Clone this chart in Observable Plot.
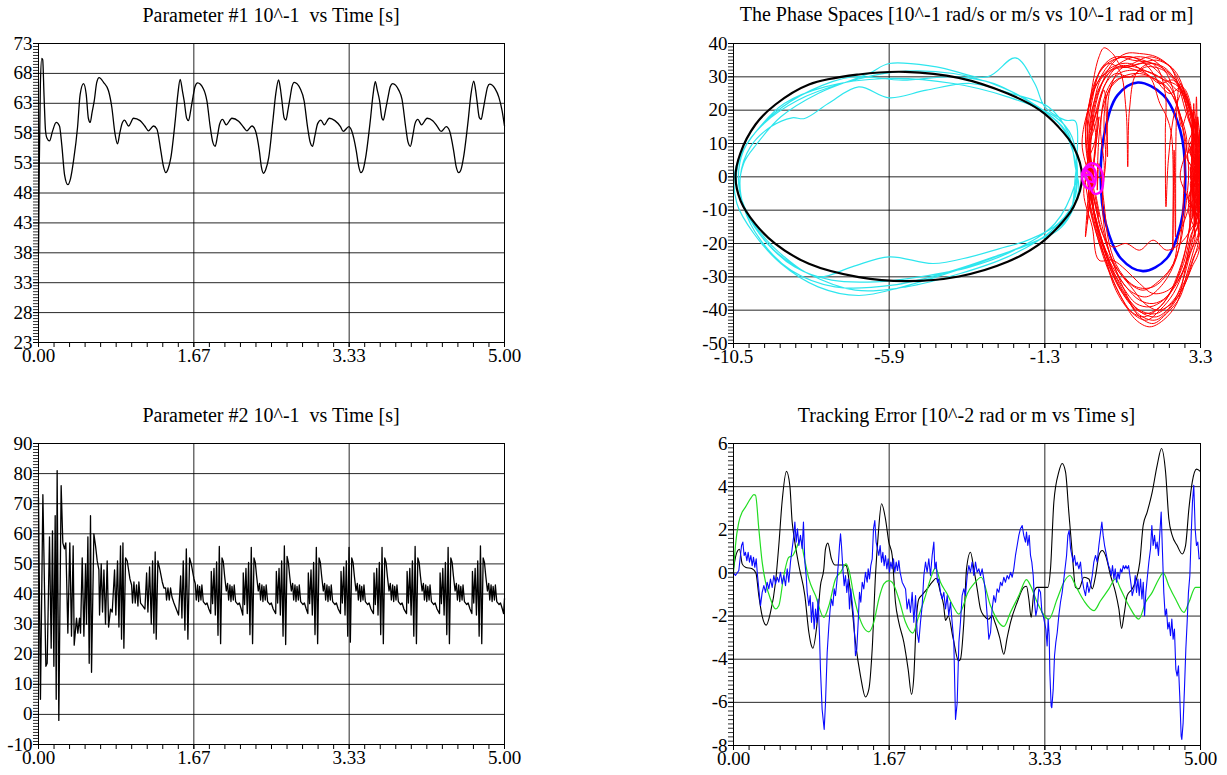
<!DOCTYPE html>
<html><head><meta charset="utf-8">
<script src="https://cdn.jsdelivr.net/npm/d3@7"></script>
<script src="https://cdn.jsdelivr.net/npm/@observablehq/plot@0.6"></script>
<style>
html,body{margin:0;padding:0;background:#fff;}
#root{position:relative;width:1227px;height:775px;overflow:hidden;background:#fff;font-family:"Liberation Serif","Times New Roman",serif;}
.ttl{position:absolute;font-size:20px;line-height:20px;white-space:pre;color:#000;transform:translateX(-50%);}
.pnl{position:absolute;}
</style></head><body><div id="root"></div><script>
// ---------- titles & tick labels ----------
const titles = ["Parameter #1 10^-1  vs Time [s]", "The Phase Spaces [10^-1 rad/s or m/s vs 10^-1 rad or m]", "Parameter #2 10^-1  vs Time [s]", "Tracking Error [10^-2 rad or m vs Time s]"];
const timeTicks = [0, 5/3, 10/3, 5];
const timeTickLabels = ["0.00", "1.67", "3.33", "5.00"];
const phaseXTicks = [-10.5, -5.9, -1.3, 3.3];
const phaseXTickLabels = ["-10.5", "-5.9", "-1.3", "3.3"];
const p1YTicks = [23, 28, 33, 38, 43, 48, 53, 58, 63, 68, 73];
const p2YTicks = [-10, 0, 10, 20, 30, 40, 50, 60, 70, 80, 90];
const phaseYTicks = [-50, -40, -30, -20, -10, 0, 10, 20, 30, 40];
const errYTicks = [-8, -6, -4, -2, 0, 2, 4, 6];

// ---------- Parameter #1 ----------
const p1 = [[0,38],[0.008,52],[0.02,66],[0.035,70.5],[0.045,70.3],[0.06,64],[0.075,58.5],[0.09,57.2],[0.118,56.7],[0.15,58.3],[0.19,59.8],[0.225,59.2],[0.25,56],[0.28,51],[0.315,49.4],[0.345,50.5],[0.376,53.4],[0.419,59],[0.447,64.5],[0.483,66.3],[0.512,64.5],[0.535,60.5],[0.555,59.8],[0.575,61.5],[0.598,63.4],[0.625,66.5],[0.651,67.3],[0.698,66.5],[0.751,65.1],[0.787,62.3],[0.82,58],[0.848,56.2],[0.872,58],[0.894,59.5],[0.923,60.2],[0.966,59.2],[1.02,60.5],[1.09,60.1],[1.14,59.2],[1.18,58.4],[1.234,59.2],[1.27,58.7],[1.313,55],[1.34,52.5],[1.367,51.4],[1.39,52],[1.42,53.9],[1.467,60.1],[1.495,64.5],[1.52,67],[1.545,65],[1.563,63.4],[1.59,60.5],[1.61,60.1],[1.635,62],[1.657,64],[1.68,65.8],[1.707,66.4],[1.77,65.4],[1.807,63.4],[1.843,59],[1.87,56.5],[1.896,55.8],[1.92,57.5],[1.943,59.5],[1.975,60.3],[2.014,59.4],[2.075,60.5],[2.147,60],[2.2,59],[2.236,58.4],[2.29,59.2],[2.326,58.5],[2.37,55],[2.39,52.5],[2.415,51.3],[2.44,52],[2.47,53.9],[2.515,60.1],[2.545,64.5],[2.576,66.9],[2.595,65.5],[2.612,63.4],[2.635,60.6],[2.655,60.2],[2.678,62],[2.7,64],[2.72,65.8],[2.744,66.5],[2.81,65.4],[2.85,63.4],[2.887,59],[2.915,56.5],[2.94,55.8],[2.965,57.5],[2.995,59.6],[3.03,60.2],[3.066,59.4],[3.12,60.5],[3.18,60.1],[3.24,59.1],[3.27,58.3],[3.33,59.1],[3.36,58.4],[3.41,55],[3.435,52.5],[3.46,51.4],[3.485,52],[3.51,53.9],[3.56,60.1],[3.59,64.5],[3.614,66.6],[3.635,65.2],[3.66,63.4],[3.685,60.5],[3.7,60.2],[3.725,62],[3.75,64],[3.775,65.8],[3.8,66.3],[3.865,65.2],[3.9,63.7],[3.94,59],[3.965,56.5],[3.99,55.8],[4.015,57.5],[4.04,59.6],[4.07,60.3],[4.11,59.4],[4.17,60.5],[4.23,60.1],[4.28,59.1],[4.32,58.3],[4.375,59.1],[4.41,58.4],[4.455,55],[4.48,52.5],[4.51,51.4],[4.535,52],[4.56,53.9],[4.61,60.1],[4.64,64.5],[4.67,66.7],[4.69,65.2],[4.705,63.4],[4.73,60.6],[4.75,60.3],[4.772,62],[4.795,64],[4.818,65.7],[4.84,66.2],[4.9,65.4],[4.94,64],[4.975,61.7],[5,59.2]];

// ---------- Parameter #2 ----------
const p2 = [[0,72],[0.021,5],[0.047,73],[0.079,16],[0.093,17],[0.118,59],[0.136,22],[0.15,61],[0.165,16],[0.179,66],[0.19,5],[0.2,81],[0.218,-2],[0.243,76],[0.261,57],[0.279,55],[0.293,57],[0.315,27],[0.336,57],[0.354,26],[0.372,56],[0.383,23],[0.408,32],[0.422,27],[0.44,32],[0.451,27],[0.469,52],[0.487,26],[0.505,50],[0.515,30],[0.53,59],[0.544,17],[0.558,66],[0.569,14],[0.594,60],[0.612,56],[0.63,51],[0.648,48],[0.655,33],[0.673,50],[0.687,34],[0.702,48],[0.719,30],[0.737,51],[0.752,29],[0.773,35],[0.791,34],[0.816,48],[0.83,33],[0.848,51],[0.863,29],[0.88,56],[0.891,25],[0.906,57],[0.916,22],[0.934,52],[0.952,51],[0.981,45],[0.999,43],[1.009,37],[1.024,44],[1.038,37],[1.052,43],[1.067,36],[1.077,44],[1.095,37],[1.12,36],[1.142,35],[1.16,47],[1.174,34],[1.192,49],[1.21,30],[1.224,51],[1.238,27],[1.252,54],[1.263,25],[1.281,51],[1.303,48],[1.328,44],[1.346,42],[1.364,42],[1.374,38],[1.389,42],[1.403,38],[1.417,42],[1.432,39],[1.453,37],[1.478,35],[1.503,33],
[1.525,46],[1.539,32],[1.553,51],[1.571,28],[1.586,55],[1.603,25],[1.621,52],[1.639,50],[1.668,45],[1.682,43.5],[1.693,38],[1.707,43],[1.718,37.5],[1.729,42.5],[1.743,38],[1.753,43],[1.768,37.5],[1.793,36.5],[1.808,37],[1.828,35],[1.848,33.5],
[1.854,47.5],[1.868,36.8],[1.883,48.5],[1.897,33],[1.911,50.7],[1.926,26.3],[1.94,55.8],[1.954,23.5],[1.969,52],[1.983,50.7],[1.997,46],[2.015,41],[2.029,43.5],[2.04,38],[2.054,43],[2.065,37.5],[2.076,42.5],[2.09,38],[2.1,43],[2.115,37.5],[2.14,36.5],[2.155,37],[2.175,35],[2.192,33],
[2.197,47],[2.211,36.5],[2.226,48.5],[2.24,33.5],[2.254,50.5],[2.269,26.5],[2.283,55.5],[2.297,23.5],[2.312,52],[2.326,50.5],[2.34,46],[2.358,41],[2.372,43.5],[2.383,38],[2.397,43],[2.408,37.5],[2.419,42.5],[2.433,38],[2.443,43],[2.458,37.5],[2.483,36.5],[2.498,37],[2.518,35],[2.545,33.5],
[2.552,47.5],[2.566,37],[2.581,48.5],[2.595,33],[2.609,51],[2.624,26],[2.638,56],[2.652,23.2],[2.667,52.5],[2.681,50.5],[2.695,46],[2.713,41],[2.727,43.5],[2.738,38],[2.752,43],[2.763,37.5],[2.774,42.5],[2.788,38],[2.798,43],[2.813,37.5],[2.838,36.5],[2.853,37],[2.873,35],[2.89,33.5],
[2.895,47],[2.909,36.8],[2.924,48],[2.938,33],[2.952,50.5],[2.967,26.5],[2.981,55.5],[2.995,23.5],[3.01,52],[3.024,50.5],[3.038,46],[3.056,41],[3.07,43.5],[3.081,38],[3.095,43],[3.106,37.5],[3.117,42.5],[3.131,38],[3.141,43],[3.156,37.5],[3.181,36.5],[3.196,37],[3.216,35],[3.24,33.5],
[3.246,47.5],[3.26,37],[3.275,49],[3.289,33],[3.303,51],[3.318,26],[3.332,55.5],[3.346,24],[3.361,52],[3.375,50.5],[3.389,46],[3.407,41],[3.421,43.5],[3.432,38],[3.446,43],[3.457,37.5],[3.468,42.5],[3.482,38],[3.492,43],[3.507,37.5],[3.532,36.5],[3.547,37],[3.567,35],[3.594,33.5],
[3.6,47],[3.614,36.5],[3.629,48.5],[3.643,33],[3.657,50.5],[3.672,26.5],[3.686,55.5],[3.7,23.5],[3.715,52],[3.729,50.5],[3.743,46],[3.761,41],[3.775,43.5],[3.786,38],[3.8,43],[3.811,37.5],[3.822,42.5],[3.836,38],[3.846,43],[3.861,37.5],[3.886,36.5],[3.901,37],[3.921,35],[3.949,33.5],
[3.955,47.5],[3.969,37],[3.984,48.5],[3.998,33],[4.012,51],[4.027,26],[4.041,55.8],[4.055,23.5],[4.07,52],[4.084,50.5],[4.098,46],[4.116,41],[4.13,43.5],[4.141,38],[4.155,43],[4.166,37.5],[4.177,42.5],[4.191,38],[4.201,43],[4.216,37.5],[4.241,36.5],[4.256,37],[4.276,35],[4.303,33.5],
[4.309,47],[4.323,36.8],[4.338,48.5],[4.352,33],[4.366,50.5],[4.381,26.5],[4.395,55.5],[4.409,23.5],[4.424,52],[4.438,50.5],[4.452,46],[4.47,41],[4.484,43.5],[4.495,38],[4.509,43],[4.52,37.5],[4.531,42.5],[4.545,38],[4.555,43],[4.57,37.5],[4.595,36.5],[4.61,37],[4.63,35],[4.65,33.5],
[4.656,47.5],[4.67,37],[4.685,48.5],[4.699,33],[4.713,51],[4.728,26],[4.742,56],[4.756,23.5],[4.771,52],[4.785,50.5],[4.799,46],[4.817,41],[4.831,43.5],[4.842,38],[4.856,43],[4.867,37.5],[4.878,42.5],[4.892,38],[4.902,43],[4.917,37.5],[4.942,36.5],[4.957,37],[4.977,35],[4.99,33.5],[5,38.5]];

// ---------- Phase spaces ----------
const phaseBlack = [[-10.44,0],[-10.3,7],[-9.85,15.7],[-9.26,21.7],[-8.27,27.7],[-6.8,30.7],[-5.42,31.5],[-3.84,29.7],[-2.4,25],[-1.45,20],[-0.9,15],[-0.45,9],[-0.2,0],[-0.45,-9],[-0.95,-15.5],[-1.5,-20.5],[-2.4,-25.5],[-3.84,-29.9],[-5.42,-31.3],[-6.8,-30.1],[-8.27,-26.1],[-9.26,-20.1],[-9.85,-14.2],[-10.29,-7.2]];
const phaseBlue = [[1.45,28.3],[2.2,24.5],[2.7,14],[2.85,0],[2.72,-14],[2.3,-24.5],[1.6,-28.3],[0.95,-24.5],[0.5,-14],[0.35,0],[0.48,14],[0.85,24.5]];
const phaseCyan = [
[-0.35,3],[-0.5,-9],[-1.2,-17],[-2.4,-24],[-3.8,-29],[-5.4,-33],[-6.9,-34],[-8.3,-29],[-9.3,-22],[-10.0,-13],[-10.4,-3],[-10.3,6],[-9.8,14],[-9.0,22],[-7.8,27],[-6.0,29.5],[-4.0,28],[-2.4,24],[-1.0,18],[-0.5,12],
[-0.4,-6],[-0.9,-14],[-1.8,-19],[-2.66,-21.6],[-3.5,-24],[-4.6,-26],[-5.9,-24],[-7.0,-27],[-8.0,-30],[-9.0,-24],[-9.9,-14],[-10.3,-5],[-10.2,4],[-9.8,10],[-9.1,18],[-8.0,25],[-6.5,31],[-5.9,34],[-4.5,33],[-3.0,30],[-2.17,35.7],[-1.6,28],[-1.3,21],[-0.7,17],[-0.4,16.7],[-0.35,6],
[-0.4,0],[-0.6,-12],[-1.5,-19],[-2.8,-24],[-4.3,-29],[-5.8,-32.5],[-7.5,-33],[-8.8,-28],[-9.7,-19],[-10.2,-9],[-10.3,0],[-10.0,9],[-9.4,15],[-8.77,17.7],[-8.4,17.5],[-7.7,22],[-6.8,27],[-5.9,23.7],[-4.8,26],[-3.5,28],[-2.3,25],[-1.2,21],[-0.6,13],[-0.4,3],
[-0.3,-4],[-0.8,-15],[-2.0,-21],[-3.3,-26],[-4.5,-30],[-5.5,-33],[-6.8,-35.6],[-8.0,-33],[-9.1,-26],[-9.9,-17],[-10.4,-8],[-10.45,2],[-10.1,10],[-9.3,19],[-8.2,26],[-7.0,30],[-5.5,29],[-4.0,30],[-2.8,28],[-1.7,22],[-0.8,15],[-0.35,2],
[-0.4,-2],[-1.0,-14],[-2.2,-22],[-3.5,-27],[-5.0,-30],[-6.3,-31.5],[-7.6,-31],[-8.7,-27],[-9.5,-20],[-10.1,-11],[-10.35,-2],[-10.2,8],[-9.6,16],[-8.6,23],[-7.3,28],[-5.7,31.5],[-4.0,31],[-2.6,27],[-1.5,21],[-0.7,14],[-0.4,4]];
const phaseRed = [
[0.0,5],[-0.1,15],[0.1,25],[0.4,33],[0.8,36],[1.3,35],[1.9,34],[2.4,31],[2.7,27],[2.9,22],[3.1,15],[2.95,10],[3.2,5],[3.0,0],[3.25,-5],[3.05,-12],[2.9,-20],[2.7,-28],[2.4,-35],[2.0,-40],[1.6,-42],[1.2,-40],[0.8,-34],[0.5,-25],[0.2,-15],[0.0,-5],
[0.05,3],[-0.05,14],[0.1,27],[0.3,36],[0.45,38.7],[0.7,37],[1.0,33],[1.5,34],[2.0,35],[2.4,33],[2.6,29],[2.8,24],[3.0,18],[3.2,12],[3.0,7],[3.25,2],[3.05,-3],[3.3,-8],[3.1,-15],[2.95,-22],[2.8,-30],[2.6,-38],[2.2,-43],[1.8,-45],[1.4,-43],[1.0,-37],[0.6,-28],[0.3,-18],[0.1,-8],
[0.1,0],[0.0,10],[0.15,22],[0.4,30],[0.9,33],[1.4,32],[1.8,30],[2.1,22],[2.3,18],[2.45,12],[2.48,-22],[2.52,8],[2.56,-18],[2.6,20],[2.7,28],[2.9,23],[3.15,14],[2.95,8],[3.3,3],[3.0,-2],[3.2,-8],[3.0,-14],[2.85,-22],[2.6,-30],[2.3,-36],[1.9,-38],[1.5,-37],[1.1,-33],[0.7,-27],[0.4,-20],[0.15,-10],
[0.0,2],[-0.1,12],[0.05,24],[0.3,31],[0.6,34],[0.9,32],[1.1,20],[1.15,3],[1.2,20],[1.4,31],[1.8,34],[2.2,33],[2.5,30],[2.75,26],[3.0,20],[3.2,12],[2.9,6],[3.2,0],[2.95,-6],[3.2,-12],[3.0,-18],[2.8,-26],[2.5,-33],[2.1,-39],[1.7,-41],[1.3,-39],[0.9,-33],[0.55,-24],[0.25,-14],[0.05,-5],
[0.15,-2],[0.05,8],[0.2,19],[0.5,28],[0.8,31],[1.2,30],[1.7,33],[2.2,32],[2.6,28],[2.85,20],[3.1,12],[3.25,4],[3.05,-4],[3.25,-10],[3.0,-16],[2.7,-20],[2.3,-22],[1.9,-19],[1.5,-22],[1.1,-20],[0.7,-21],[0.4,-17],[0.2,-9],
[0.0,1],[-0.05,12],[0.1,23],[0.35,32],[0.7,35],[1.1,36],[1.6,35],[2.0,33],[2.26,25],[2.26,13],[2.28,-9],[2.35,5],[2.55,20],[2.8,26],[3.05,19],[3.3,10],[3.2,18],[3.2,-10],[3.27,14],[3.27,-8],[3.3,2],[3.1,-10],[3.25,-16],[3.0,-23],[2.75,-32],[2.4,-39],[2.0,-42],[1.6,-41],[1.2,-37],[0.8,-30],[0.45,-21],[0.15,-11],
[0.05,-1],[0.0,10],[0.25,20],[0.45,26],[0.55,6],[0.6,25],[0.9,32],[1.3,34],[1.8,36],[2.3,34],[2.6,31],[2.85,25],[3.1,17],[3.25,8],[3.0,2],[3.3,-4],[3.1,-9],[3.3,-15],[3.1,-22],[2.9,-29],[2.7,-36],[2.3,-41],[1.9,-44],[1.5,-42],[1.1,-36],[0.7,-29],[0.4,-20],[0.15,-10],
[0.1,1],[0.0,13],[0.2,24],[0.5,30],[0.9,34],[1.4,36],[1.9,35],[2.3,31],[2.6,22],[2.75,15],[2.95,20],[3.2,14],[3.0,8],[3.3,2],[3.05,-5],[3.3,-11],[3.1,-18],[2.9,-25],[2.6,-32],[2.2,-37],[1.8,-39],[1.4,-38],[1.0,-33],[0.6,-26],[0.3,-17],[0.1,-8],
[0.0,0],[-0.2,10],[0.0,21],[0.3,29],[0.7,33],[1.2,34],[1.7,31],[2.1,28],[2.5,29],[2.8,24],[3.0,16],[3.25,9],[3.1,20],[3.12,-14],[3.18,16],[3.2,-12],[3.0,3],[3.2,-4],[2.95,-10],[3.15,-17],[2.95,-24],[2.7,-30],[2.35,-34],[1.9,-35],[1.5,-32],[1.1,-28],[0.7,-25],[0.3,-25],[0.1,-15],[-0.15,-5],
[0.0,4],[0.1,16],[0.35,27],[0.7,34],[1.1,37],[1.5,37],[2.0,36],[2.4,33],[2.7,28],[2.95,21],[3.15,12],[2.9,6],[3.2,0],[2.95,-7],[3.25,-13],[3.0,-20],[2.8,-28],[2.5,-35],[2.1,-40],[1.7,-43],[1.3,-41],[0.9,-35],[0.5,-26],[0.2,-16],[0.0,-6],[0.05,3],
[-0.1,-18],[0.3,18],[-0.05,-14],[0.25,20],[0.05,14],[0.3,26],[0.7,32],[1.2,33],[1.7,34],[2.2,30],[2.6,26],[2.9,24],[3.05,-12],[3.1,22],[3.15,-15],[3.22,18],[3.25,-18],[3.3,12],[3.28,-20],[3.1,-24],[2.85,-31],[2.5,-37],[2.0,-41],[1.5,-40],[1.0,-35],[0.6,-27],[0.25,-18],[0.0,-8],[-0.1,2],
[0.2,12],[0.05,22],[0.35,30],[0.75,35],[1.25,36],[1.75,33],[2.15,27],[2.4,25],[2.75,27],[3.0,22],[2.98,-16],[3.08,20],[3.12,-18],[3.18,24],[3.24,-14],[3.3,16],[3.26,-22],[3.05,-27],[2.75,-34],[2.35,-40],[1.95,-43],[1.45,-41],[1.05,-34],[0.65,-24],[0.35,-15],[0.1,-4],
[0.3,-12],[0.0,8],[0.2,16],[0.45,27],[0.85,33],[1.35,33],[1.85,31],[2.25,29],[2.65,27],[2.95,18],[3.2,6],[3.0,-6],[3.25,-18],[3.05,-26],[2.8,-33],[2.45,-38],[2.05,-40],[1.65,-38],[1.25,-33],[0.85,-28],[0.5,-22],[0.2,-12],[0.0,0],
[0.4,0],[0.35,15],[0.5,25],[0.9,31],[1.4,32],[1.9,31],[2.4,27],[2.7,18],[2.85,8],[2.8,-5],[2.75,-15],[2.6,-24],[2.2,-32],[1.7,-36],[1.2,-34],[0.8,-28],[0.5,-18],[0.4,-6],
[0.5,5],[0.45,18],[0.6,26],[1.0,30],[1.5,31],[2.0,29],[2.5,24],[2.8,14],[2.95,2],[2.85,-10],[2.7,-20],[2.4,-28],[1.9,-33],[1.4,-33],[0.9,-28],[0.6,-20],[0.45,-8],[0.3,4],
[0.25,-4],[0.3,12],[0.45,22],[0.8,29],[1.3,30],[1.8,30],[2.3,27],[2.65,20],[2.9,10],[2.7,0],[2.95,-8],[2.65,-18],[2.5,-26],[2.1,-31],[1.6,-34],[1.1,-31],[0.7,-25],[0.4,-15],[0.2,-5]];
const phaseMagenta = [[-0.2,0],[0.0,3],[0.15,2.5],[0.2,-1],[0.1,-3.5],[-0.1,-3],[-0.2,1],[0.05,4],[0.3,3],[0.42,0],[0.35,-4.5],[0.15,-5],[0.0,-2],[-0.15,2],[0.05,1],[0.12,-1.5],[-0.05,-1],[-0.1,0.5],[0.05,0.5]];

// ---------- Tracking error ----------
const errBlack = [[0,0.2],[0.025,0.8],[0.046,1.04],[0.064,1.1],[0.093,0.42],[0.128,0.26],[0.2,0.19],[0.24,0],[0.271,-1.05],[0.307,-2.0],[0.35,-2.42],[0.396,-1.83],[0.45,-0.43],[0.485,1.27],[0.52,3.29],[0.567,4.71],[0.603,4.06],[0.628,2.36],[0.646,1.74],[0.7,0.34],[0.764,-1.05],[0.807,-2.76],[0.835,-3.38],[0.849,-3.49],[0.896,-2.29],[0.931,-0.59],[0.967,0.19],[0.985,1.12],[1.01,1.38],[1.049,0.65],[1.085,0.37],[1.13,0.37],[1.181,0.37],[1.206,0.34],[1.253,-0.9],[1.306,-3.22],[1.36,-4.78],[1.413,-5.75],[1.449,-5.4],[1.485,-3.53],[1.52,-0.12],[1.549,1.74],[1.585,3.21],[1.627,2.51],[1.663,1.43],[1.699,0.81],[1.734,-1.36],[1.77,-2.29],[1.824,-3.22],[1.87,-4.47],[1.906,-5.63],[1.931,-4.78],[1.956,-2.29],[1.984,-1.21],[2.02,-1.02],[2.073,-0.74],[2.127,-0.43],[2.17,-0.25],[2.216,-0.9],[2.25,-1.5],[2.27,-2.2],[2.3,-2.0],[2.35,-3.0],[2.41,-4.08],[2.43,-4.0],[2.466,-2.29],[2.495,0.19],[2.537,0.96],[2.573,0.19],[2.609,-0.74],[2.644,-1.67],[2.68,-1.98],[2.733,-2.14],[2.769,-1.98],[2.8,-2.3],[2.85,-3.0],[2.894,-3.77],[2.93,-3.0],[2.966,-2.29],[3.037,-1.36],[3.108,-0.67],[3.137,-0.62],[3.162,-1.21],[3.187,-2.06],[3.216,-0.9],[3.251,-0.67],[3.366,-0.67],[3.394,0.19],[3.43,3.29],[3.483,4.68],[3.519,5.07],[3.555,4.68],[3.59,2.82],[3.626,0.96],[3.662,-0.67],[3.698,-0.74],[3.752,-0.2],[3.805,-0.28],[3.841,-0.74],[3.877,-0.12],[3.912,0.81],[3.948,1.04],[3.984,0.81],[4.037,-0.12],[4.09,-0.9],[4.126,-1.67],[4.155,-2.57],[4.18,-1.98],[4.215,-1.05],[4.269,-0.74],[4.315,-0.28],[4.35,0.5],[4.386,2.2],[4.429,2.82],[4.483,3.75],[4.536,4.99],[4.583,5.77],[4.626,4.68],[4.661,2.51],[4.697,1.74],[4.75,1.27],[4.804,0.88],[4.84,1.27],[4.876,2.98],[4.912,4.22],[4.958,4.81],[5,4.7]];
const errGreen = [[0,0],[0.021,1.27],[0.057,2.36],[0.093,2.82],[0.128,3.05],[0.182,3.44],[0.218,3.63],[0.236,3.6],[0.271,2.05],[0.307,0.5],[0.343,-0.43],[0.396,-1.21],[0.45,-1.67],[0.485,-1.52],[0.539,-0.12],[0.592,0.73],[0.628,0.78],[0.671,1.12],[0.717,1.55],[0.753,0.81],[0.807,-0.28],[0.878,-1.05],[0.967,-2.06],[1.021,-1.52],[1.092,-0.28],[1.146,0.03],[1.206,0.42],[1.242,0.03],[1.288,-1.05],[1.342,-1.98],[1.449,-2.73],[1.502,-2.29],[1.556,-1.21],[1.61,-0.51],[1.663,-0.36],[1.699,-0.43],[1.77,-1.21],[1.842,-2.29],[1.92,-2.79],[1.984,-1.98],[2.056,-1.05],[2.109,-0.28],[2.163,0.23],[2.216,-0.43],[2.288,-0.98],[2.359,-1.6],[2.413,-1.91],[2.466,-1.45],[2.502,-0.98],[2.573,-0.51],[2.652,-0.2],[2.752,-1.52],[2.895,-2.48],[2.965,-1.83],[3.055,-1.05],[3.137,-0.31],[3.18,-0.59],[3.251,-1.36],[3.376,-2.14],[3.465,-1.21],[3.537,-0.43],[3.602,-0.12],[3.662,-0.59],[3.752,-1.29],[3.859,-1.75],[3.93,-1.29],[4.019,-0.74],[4.09,-0.28],[4.144,-0.74],[4.233,-1.52],[4.34,-2.14],[4.412,-1.36],[4.483,-0.9],[4.554,-0.28],[4.601,0],[4.661,-0.59],[4.733,-1.21],[4.822,-1.83],[4.876,-1.36],[4.947,-0.67],[5,-0.67]];
const errBlue = [[0,0],[0.021,-0.12],[0.057,0.11],[0.086,1.27],[0.1,1.43],[0.114,0.81],[0.128,0.96],[0.143,0.57],[0.157,0.96],[0.171,0.5],[0.186,0.81],[0.2,0.34],[0.214,0.73],[0.228,0.26],[0.243,0.65],[0.257,-0.12],[0.271,-0.74],[0.289,-1.52],[0.307,-0.9],[0.325,-0.59],[0.343,-0.9],[0.36,-0.43],[0.378,-0.74],[0.396,-0.28],[0.414,-0.67],[0.432,-0.12],[0.45,-0.51],[0.468,-0.2],[0.485,-0.43],[0.503,0.03],[0.521,-0.51],[0.539,-0.12],[0.557,-0.59],[0.575,0.19],[0.592,-0.43],[0.61,0.5],[0.628,1.12],[0.646,1.74],[0.657,2.36],[0.671,1.43],[0.685,2.05],[0.7,1.27],[0.717,1.74],[0.735,1.12],[0.749,2.36],[0.764,0.5],[0.778,-0.12],[0.789,-0.9],[0.807,-1.52],[0.821,-1.05],[0.835,-2.29],[0.849,-1.36],[0.864,-2.6],[0.878,-1.67],[0.892,-2.29],[0.906,-1.21],[0.921,-2.91],[0.931,-4.47],[0.949,-6.33],[0.971,-7.26],[0.985,-6.02],[1.003,-3.69],[1.021,-2.45],[1.035,-1.67],[1.049,-1.21],[1.064,-1.52],[1.078,-0.74],[1.092,-1.05],[1.106,-0.43],[1.121,0.34],[1.135,1.27],[1.146,1.81],[1.156,1.27],[1.171,0.19],[1.185,-0.59],[1.199,-0.12],[1.213,-0.9],[1.228,-0.28],[1.242,-1.67],[1.256,-0.74],[1.271,-1.36],[1.288,-2.14],[1.306,-3.84],[1.32,-3.53],[1.335,-2.29],[1.349,-0.9],[1.363,-1.36],[1.378,-0.43],[1.395,-0.74],[1.413,0.03],[1.431,-0.43],[1.442,0.19],[1.456,-0.28],[1.47,0.34],[1.485,0.65],[1.499,2.05],[1.513,2.43],[1.527,1.43],[1.542,1.12],[1.556,0.81],[1.57,1.27],[1.585,0.5],[1.599,0.96],[1.613,0.34],[1.627,0.81],[1.642,0.19],[1.656,0.65],[1.67,0.03],[1.685,0.5],[1.699,0.19],[1.713,0.65],[1.727,0.03],[1.742,0.5],[1.756,0.11],[1.77,0.57],[1.784,0.03],[1.806,-0.43],[1.842,-0.74],[1.859,-1.67],[1.877,-1.21],[1.895,-1.83],[1.913,-0.9],[1.931,-2.29],[1.949,-1.05],[1.966,-2.76],[1.984,-3.22],[2.002,-2.29],[2.02,-1.52],[2.038,-0.12],[2.056,0.5],[2.073,0.03],[2.091,0.65],[2.109,-0.12],[2.127,0.81],[2.145,1.43],[2.156,0.19],[2.17,0.5],[2.184,-0.43],[2.198,-0.28],[2.216,-0.9],[2.234,-1.21],[2.252,-0.9],[2.27,-1.67],[2.288,-1.05],[2.305,-1.98],[2.323,-1.36],[2.341,-2.29],[2.359,-3.22],[2.37,-5.4],[2.377,-6.79],[2.395,-6.02],[2.413,-3.22],[2.43,-2.29],[2.448,-1.05],[2.466,-0.74],[2.484,-1.05],[2.502,-0.12],[2.52,0.34],[2.537,0.03],[2.555,0.5],[2.573,-0.12],[2.591,0.5],[2.609,0.03],[2.627,0.19],[2.644,-0.12],[2.662,0.19],[2.68,-0.28],[2.698,-0.9],[2.716,-1.98],[2.734,-3.07],[2.752,-2.76],[2.769,-1.67],[2.787,-1.05],[2.805,-1.36],[2.823,-0.74],[2.841,-0.9],[2.859,-0.43],[2.876,-0.59],[2.894,-0.2],[2.912,-0.43],[2.93,-0.12],[2.948,-0.28],[2.966,0.03],[2.984,-0.2],[3.001,0.19],[3.019,0.81],[3.037,1.27],[3.055,1.74],[3.073,2.05],[3.091,2.2],[3.108,1.74],[3.126,1.43],[3.137,1.89],[3.151,1.27],[3.166,1.74],[3.18,0.81],[3.194,0.5],[3.209,-0.12],[3.223,-1.36],[3.237,-1.98],[3.251,-1.67],[3.269,-0.74],[3.287,-0.9],[3.302,-1.83],[3.316,-1.98],[3.33,-2.29],[3.344,-2.6],[3.358,-3.38],[3.369,-2.14],[3.38,-2.91],[3.387,-4.62],[3.401,-6.17],[3.408,-6.25],[3.423,-5.4],[3.437,-3.84],[3.451,-3.22],[3.466,-2.76],[3.483,-1.98],[3.501,-1.36],[3.519,-0.9],[3.537,-0.28],[3.566,0.81],[3.58,1.74],[3.594,1.97],[3.609,1.12],[3.623,0.81],[3.637,0.5],[3.651,0.81],[3.666,0.34],[3.68,0.5],[3.698,0.19],[3.715,0.5],[3.733,-0.28],[3.751,-0.74],[3.769,-1.05],[3.787,-0.43],[3.805,-0.9],[3.823,-0.59],[3.841,-0.12],[3.858,0.5],[3.876,0.81],[3.894,0.5],[3.912,1.27],[3.93,1.89],[3.944,2.36],[3.958,1.74],[3.973,1.27],[3.987,0.96],[4.001,0.65],[4.016,0.34],[4.03,0.19],[4.044,-0.12],[4.058,0.34],[4.073,-0.28],[4.087,0.19],[4.101,-0.43],[4.116,0.03],[4.13,-0.28],[4.144,0.19],[4.158,0.03],[4.173,0.34],[4.187,0.19],[4.201,0.34],[4.215,0.19],[4.23,0.34],[4.244,-0.12],[4.258,-0.59],[4.269,-1.05],[4.287,-0.74],[4.301,-0.12],[4.315,-0.9],[4.33,-0.28],[4.344,-1.05],[4.358,-0.28],[4.373,-1.21],[4.387,-0.43],[4.401,-1.98],[4.415,-0.9],[4.429,-0.28],[4.447,0.5],[4.465,1.12],[4.479,2.2],[4.493,1.27],[4.508,1.74],[4.522,1.12],[4.536,1.43],[4.55,0.81],[4.565,1.89],[4.579,2.82],[4.593,0.96],[4.607,-0.9],[4.622,-1.98],[4.636,-1.67],[4.65,-2.6],[4.664,-2.29],[4.679,-2.91],[4.693,-2.14],[4.707,-3.07],[4.721,-2.6],[4.736,-4.47],[4.75,-4.78],[4.764,-4.31],[4.778,-5.71],[4.793,-7.57],[4.8,-7.72],[4.814,-6.95],[4.828,-5.4],[4.843,-3.53],[4.857,-2.29],[4.871,-0.9],[4.886,-0.12],[4.9,1.74],[4.914,3.29],[4.928,4.06],[4.943,2.05],[4.957,1.27],[4.971,1.43],[4.985,0.65],[5,0.7]];

// ---------- helpers ----------
const root = document.getElementById("root");
const FONT = "'Liberation Serif','Times New Roman',serif";
const X = d => d[0], Y = d => d[1];
const stepTicks = (lo, hi, n) => d3.range(n + 1).map(i => lo + (hi - lo) * i / n);

function panel(o) {
  const MT = 10, MB = 36;
  const labelOf = new Map(o.xTicks.map((v, i) => [v, o.xLabels[i]]));
  const svg = Plot.plot({
    width: o.ML + o.pw + o.MR, height: MT + o.ph + MB,
    marginLeft: o.ML, marginRight: o.MR, marginTop: MT, marginBottom: MB,
    x: {domain: o.xDomain, label: null},
    y: {domain: o.yDomain, label: null},
    style: {fontFamily: FONT, fontSize: "19px", background: "transparent", color: "#000", overflow: "visible"},
    marks: [
      Plot.gridY(o.yTicks, {stroke: "#000", strokeOpacity: 0.85, strokeWidth: 1}),
      Plot.gridX(o.xTicks.slice(1, -1), {stroke: "#000", strokeOpacity: 0.85, strokeWidth: 1}),
      ...o.marks,
      Plot.frame({stroke: "#000", strokeWidth: 1}),
      Plot.axisY(o.yMinor, {tickSize: 5, tickFormat: () => "", strokeOpacity: 0.8}),
      Plot.axisY(o.yTicks, {tickSize: 5, tickPadding: 1, tickFormat: d => String(d), fontSize: 19}),
      Plot.axisX(o.xMinor, {tickSize: 5, tickFormat: () => ""}),
      Plot.axisX(o.xTicks, {tickSize: 5, tickPadding: 1, tickFormat: d => labelOf.get(d), fontSize: 19})
    ]
  });
  const wrap = document.createElement("div");
  wrap.className = "pnl";
  wrap.style.left = (o.pl - o.ML) + "px";
  wrap.style.top = (o.pt - MT) + "px";
  wrap.appendChild(svg);
  root.appendChild(wrap);
  const t = document.createElement("div");
  t.className = "ttl";
  t.textContent = o.title;
  t.style.left = (o.pl + o.pw / 2) + "px";
  t.style.top = (o.titleBase - 17) + "px";
  root.appendChild(t);
}

// Top-left: Parameter #1
panel({pl: 38, pt: 43, pw: 466, ph: 299, ML: 38, MR: 30, title: titles[0], titleBase: 22,
  xDomain: [0, 5], yDomain: [23, 73], xTicks: timeTicks, xLabels: timeTickLabels,
  xMinor: stepTicks(0, 5, 30), yTicks: p1YTicks, yMinor: stepTicks(23, 73, 100),
  marks: [Plot.line(p1, {x: X, y: Y, stroke: "#000", strokeWidth: 1.3, curve: "monotone-x"})]});

// Top-right: Phase spaces
panel({pl: 733, pt: 43, pw: 467, ph: 300, ML: 63, MR: 27, title: titles[1], titleBase: 21,
  xDomain: [-10.5, 3.3], yDomain: [-50, 40], xTicks: phaseXTicks, xLabels: phaseXTickLabels,
  xMinor: stepTicks(-10.5, 3.3, 30), yTicks: phaseYTicks, yMinor: stepTicks(-50, 40, 90),
  marks: [
    Plot.line(phaseCyan, {x: X, y: Y, stroke: "#2ee6ee", strokeWidth: 1.2, curve: "catmull-rom"}),
    Plot.line(phaseBlack, {x: X, y: Y, stroke: "#000", strokeWidth: 2.2, curve: "catmull-rom-closed"}),
    Plot.line(phaseBlue, {x: X, y: Y, stroke: "#0000ff", strokeWidth: 2.6, curve: "catmull-rom-closed"}),
    Plot.line(phaseRed, {x: X, y: Y, stroke: "#ff0000", strokeWidth: 1, curve: "catmull-rom", clip: true}),
    Plot.line(phaseMagenta, {x: X, y: Y, stroke: "#ff00ff", strokeWidth: 2.4, curve: "catmull-rom"})
  ]});

// Bottom-left: Parameter #2
panel({pl: 38, pt: 443, pw: 466, ph: 301, ML: 38, MR: 30, title: titles[2], titleBase: 422,
  xDomain: [0, 5], yDomain: [-10, 90], xTicks: timeTicks, xLabels: timeTickLabels,
  xMinor: stepTicks(0, 5, 30), yTicks: p2YTicks, yMinor: stepTicks(-10, 90, 100),
  marks: [Plot.line(p2, {x: X, y: Y, stroke: "#000", strokeWidth: 1.3})]});

// Bottom-right: Tracking error
panel({pl: 733, pt: 443, pw: 467, ph: 302, ML: 63, MR: 27, title: titles[3], titleBase: 422,
  xDomain: [0, 5], yDomain: [-8, 6], xTicks: timeTicks, xLabels: timeTickLabels,
  xMinor: stepTicks(0, 5, 30), yTicks: errYTicks, yMinor: stepTicks(-8, 6, 70),
  marks: [
    Plot.line(errBlack, {x: X, y: Y, stroke: "#000", strokeWidth: 1.1, curve: "monotone-x"}),
    Plot.line(errGreen, {x: X, y: Y, stroke: "#22dd22", strokeWidth: 1.2, curve: "monotone-x"}),
    Plot.line(errBlue, {x: X, y: Y, stroke: "#0a0aff", strokeWidth: 1.1})
  ]});
</script></body></html>
